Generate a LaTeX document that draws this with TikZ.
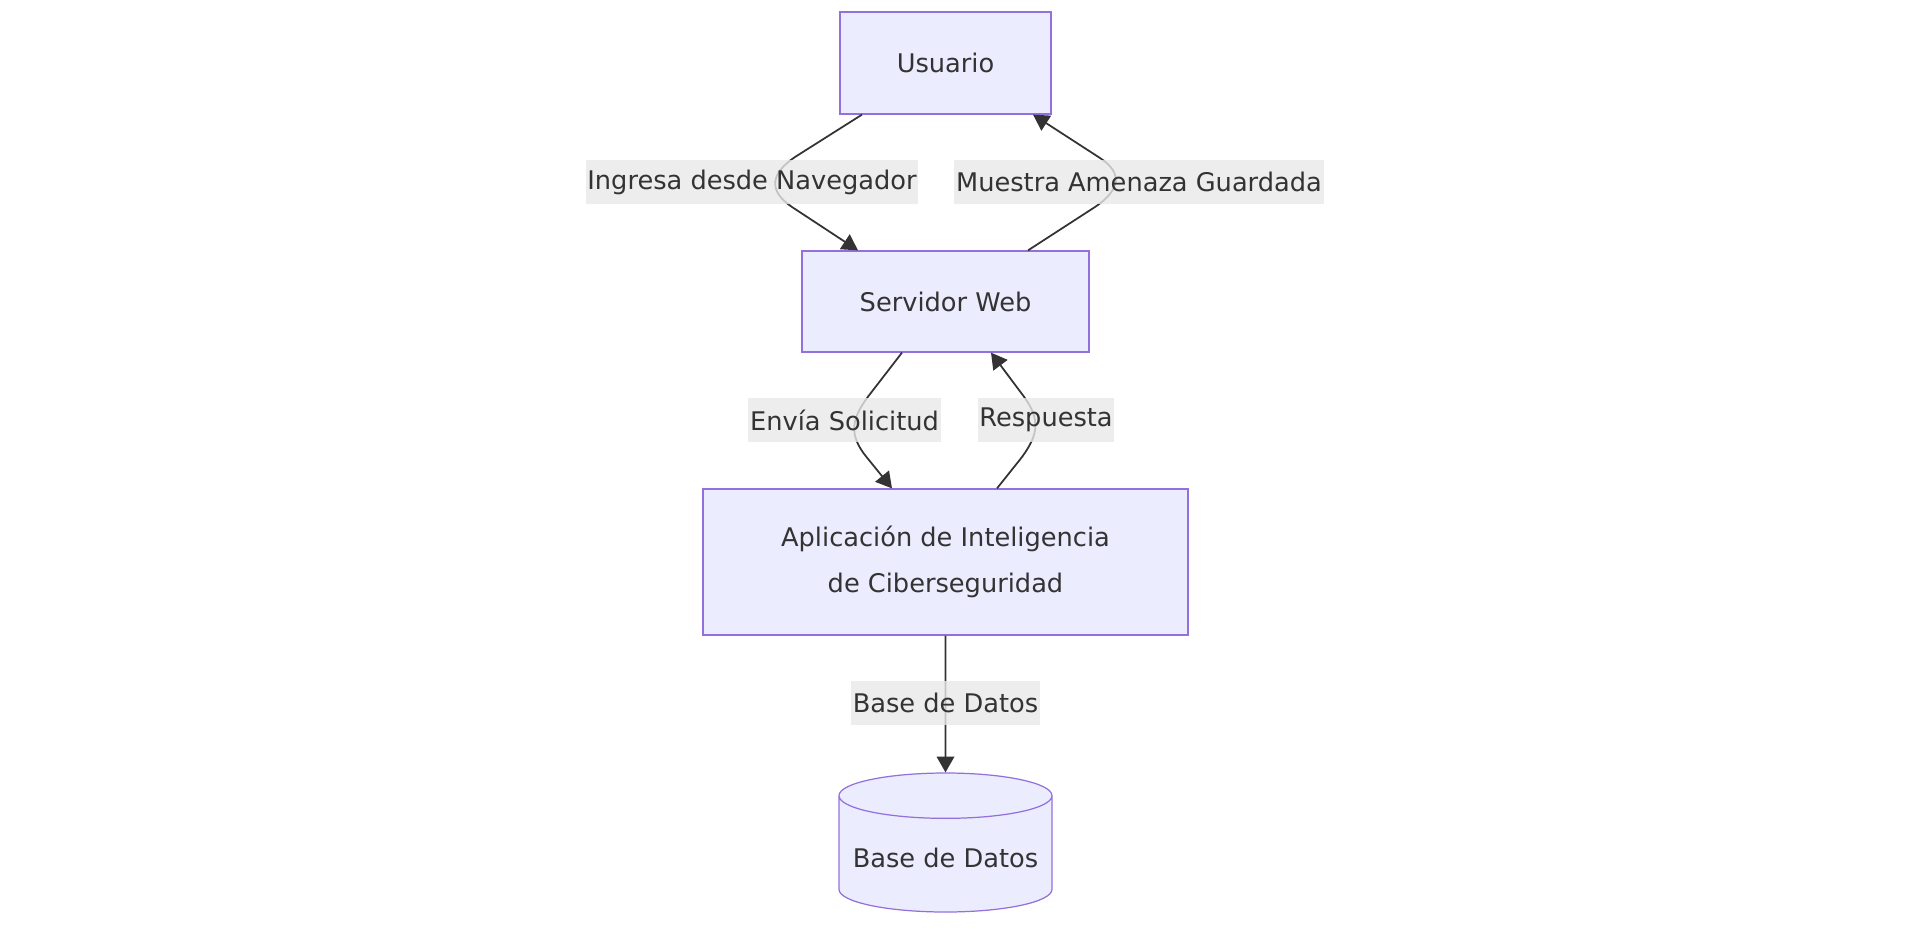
\documentclass[tikz,border=0pt]{standalone}
\usepackage{fontspec}
\setmainfont{DejaVu Sans}
\usetikzlibrary{shapes.geometric,arrows.meta}
\definecolor{lila}{HTML}{ECECFF}
\definecolor{morado}{HTML}{9370DB}
\definecolor{grisosc}{HTML}{333333}
\definecolor{grisclaro}{HTML}{E8E8E8}

\begin{document}
\begin{tikzpicture}[
    caja/.style={draw=morado, line width=0.7pt, fill=lila, text=grisosc,
      font=\fontsize{14.6}{26}\selectfont, align=center},
    etiqueta/.style={fill=grisclaro, fill opacity=0.8, text opacity=1, text=grisosc,
      font=\fontsize{14.6}{17}\selectfont, inner xsep=1pt, minimum height=0.88cm},
    flecha/.style={draw=grisosc, line width=1pt, -{Triangle[length=9pt,width=10pt]}}
  ]
  \useasboundingbox (0,0) rectangle (38.28,-18.56);

  % cajas
  \node[caja, minimum width=4.22cm, minimum height=2.04cm] (usuario) at (18.91,-1.26) {Usuario};
  \node[caja, minimum width=5.74cm, minimum height=2.02cm] (servidor) at (18.91,-6.03) {Servidor Web};
  \node[caja, minimum width=9.70cm, minimum height=2.92cm] (aplicacion) at (18.91,-11.24)
    {Aplicación de Inteligencia\\ de Ciberseguridad};
  \node[caja, cylinder, shape border rotate=90, aspect=0.23, minimum width=4.26cm,
    minimum height=2.78cm, anchor=shape center] (bd) at (18.91,-16.85) {Base de Datos};

  % puntos de paso
  \coordinate (a1) at (15.90,-3.14);
  \coordinate (a2) at (15.84,-4.14);
  \coordinate (b1) at (21.90,-4.14);
  \coordinate (b2) at (22.00,-3.16);
  \coordinate (e1) at (17.37,-7.92);
  \coordinate (e2) at (17.33,-9.14);
  \coordinate (r1) at (20.44,-9.14);
  \coordinate (r2) at (20.47,-7.92);

  % conexiones
  \draw[flecha] ([xshift=-1.67cm]usuario.south) -- (a1) to[out=-146,in=146,looseness=1.5] (a2)
    -- ([xshift=-1.75cm]servidor.north);
  \draw[flecha] ([xshift=1.65cm]servidor.north) -- (b1) to[out=34,in=-33,looseness=1.5] (b2)
    -- ([xshift=1.75cm]usuario.south);
  \draw[flecha] ([xshift=-0.87cm]servidor.south) -- (e1) to[out=-127,in=129,looseness=1.2] (e2)
    -- ([xshift=-1.07cm]aplicacion.north);
  \draw[flecha] ([xshift=1.03cm]aplicacion.north) -- (r1) to[out=54,in=-54,looseness=1.2] (r2)
    -- ([xshift=0.91cm]servidor.south);
  \draw[flecha] (aplicacion.south) -- (bd.north);

  % etiquetas
  \node[etiqueta] (l-ingresa) at (15.04,-3.64) {Ingresa desde Navegador};
  \node[etiqueta] (l-muestra) at (22.78,-3.64) {Muestra Amenaza Guardada};
  \node[etiqueta] (l-envia) at (16.89,-8.40) {Envía Solicitud};
  \node[etiqueta] (l-respuesta) at (20.92,-8.40) {Respuesta};
  \node[etiqueta] (l-bd) at (18.91,-14.06) {Base de Datos};
\end{tikzpicture}
\end{document}
